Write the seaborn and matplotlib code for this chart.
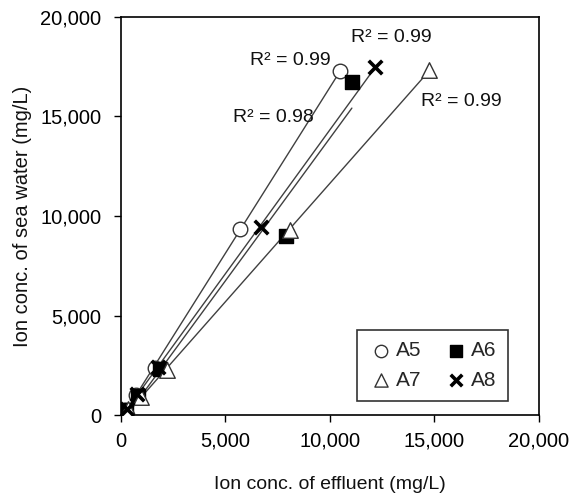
import matplotlib
matplotlib.use("Agg")
import matplotlib.pyplot as plt
import matplotlib.ticker as mticker
import seaborn as sns
import pandas as pd

series_names = ["A5", "A6", "A7", "A8"]
a5_x = [200, 700, 1650, 5700, 10500]
a5_y = [250, 1000, 2350, 9350, 17300]
a6_x = [250, 800, 1850, 7900, 11050]
a6_y = [230, 950, 2300, 9000, 16750]
a7_x = [350, 950, 2200, 8100, 14750]
a7_y = [280, 900, 2250, 9300, 17350]
a8_x = [300, 750, 1750, 6700, 12150]
a8_y = [280, 1050, 2400, 9450, 17500]
r2_labels = ["R² = 0.99", "R² = 0.98", "R² = 0.99", "R² = 0.99"]
r2_pos = [(8100, 17800), (7300, 14950), (16300, 15750), (12950, 18950)]
x_ticks = [0, 5000, 10000, 15000, 20000]
y_ticks = [0, 5000, 10000, 15000, 20000]

data = {"A5": (a5_x, a5_y), "A6": (a6_x, a6_y), "A7": (a7_x, a7_y), "A8": (a8_x, a8_y)}
rows = []
for name in series_names:
    xs, ys = data[name]
    for xv, yv in zip(xs, ys):
        rows.append({"series": name, "effluent": xv, "sea": yv})
df = pd.DataFrame(rows)

sns.set_theme(style="white")
plt.rcParams["font.family"] = ["Liberation Sans", "DejaVu Sans"]

fig = plt.figure(figsize=(5.69, 4.95), dpi=100)
ax = fig.add_axes([0.2127, 0.1616, 0.7343, 0.8041])

styles = {
    "A5": dict(marker="o", facecolor="white", edgecolor="#333333", s=110, linewidth=1.0),
    "A6": dict(marker="s", facecolor="black", edgecolor="black", s=110, linewidth=1.0),
    "A7": dict(marker="^", facecolor="white", edgecolor="#333333", s=125, linewidth=1.0),
    "A8": dict(marker="x", color="black", s=95, linewidth=2.6),
}

handles = {}
for name in series_names:
    sub = df[df["series"] == name]
    sns.regplot(data=sub, x="effluent", y="sea", ax=ax, scatter=False, ci=None,
                truncate=True, line_kws=dict(color="#404040", linewidth=1.0, zorder=2))
    st = styles[name]
    sns.scatterplot(data=sub, x="effluent", y="sea", ax=ax, zorder=3, legend=False, **st)
    handles[name] = ax.collections[-1]

for txt, (tx, ty) in zip(r2_labels, r2_pos):
    ax.text(tx, ty, txt, ha="center", va="center", fontsize=14, color="#111111")

ax.set_xlim(0, 20000)
ax.set_ylim(0, 20000)
ax.set_xticks(x_ticks)
ax.set_yticks(y_ticks)
fmt = mticker.FuncFormatter(lambda v, p: f"{int(v):,}")
ax.xaxis.set_major_formatter(fmt)
ax.yaxis.set_major_formatter(fmt)
ax.tick_params(axis="both", direction="out", length=5, width=1, labelsize=14.5,
               colors="black", bottom=True, left=True, top=False, right=False)
ax.tick_params(axis="x", pad=7)
ax.tick_params(axis="y", pad=9)
ax.set_xlabel("Ion conc. of effluent (mg/L)", fontsize=14, labelpad=18, color="#111111")
ax.set_ylabel("Ion conc. of sea water (mg/L)", fontsize=14.5, labelpad=6, color="#111111")
for sp in ax.spines.values():
    sp.set_color("black")
    sp.set_linewidth(1.2)

order = ["A5", "A7", "A6", "A8"]
leg = ax.legend([handles[n] for n in order], order, ncol=2, loc="upper left",
                bbox_to_anchor=(0.5646, 0.2136), borderaxespad=0, fontsize=15,
                frameon=True, fancybox=False,
                edgecolor="black", handletextpad=0.1, columnspacing=1.1,
                borderpad=0.55, labelspacing=0.5, handlelength=1.2, markerscale=0.85)
leg.get_frame().set_linewidth(1.2)

fig.savefig("out.png", dpi=100, facecolor="white")
